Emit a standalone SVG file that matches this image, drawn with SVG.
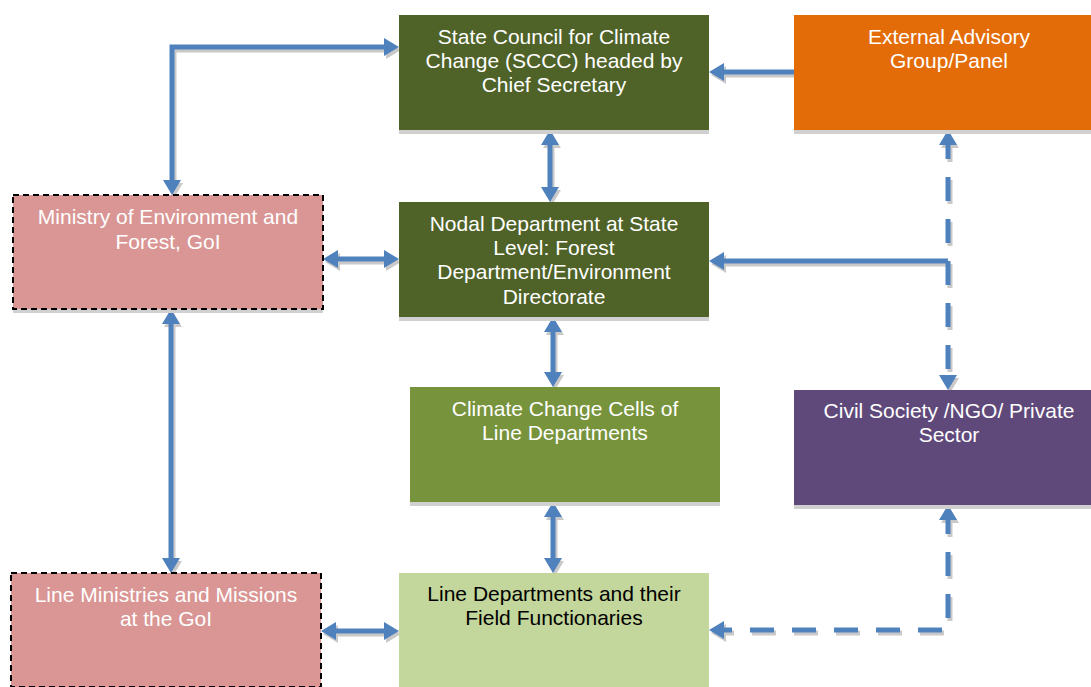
<svg xmlns="http://www.w3.org/2000/svg" width="1091" height="687" viewBox="0 0 1091 687">
<style>
.box text{font-family:"Liberation Sans",Arial,sans-serif;font-size:21px;text-anchor:middle;fill:#ffffff}
.shadow{fill:#d0d0d0}
.pink{fill:#D99694;stroke:#000;stroke-width:2;stroke-dasharray:6 4}
.conn{fill:none;stroke:#4F81BD;stroke-width:5;stroke-linejoin:miter}
.dash{stroke-dasharray:24 18}
.ar{marker-start:url(#ah);marker-end:url(#ah)}
.ae{marker-end:url(#ah)}
</style>
<defs>
<marker id="ah" markerUnits="userSpaceOnUse" markerWidth="16" markerHeight="18" refX="10" refY="9" orient="auto-start-reverse" viewBox="0 0 15 18">
<path d="M0,0 L15,9 L0,18 z" fill="#4F81BD"/>
</marker>
<filter id="sh" x="-10%" y="-10%" width="130%" height="130%">
<feDropShadow dx="2" dy="3" stdDeviation="0.6" flood-color="#888" flood-opacity="0.45"/>
</filter>
</defs>
<rect width="1091" height="687" fill="#ffffff"/>

<g id="connectors" filter="url(#sh)">
<path class="conn ar" d="M172,190 L172,47 L394,47"/>
<path class="conn ae" d="M794,72 L714,72"/>
<path class="conn ar" d="M550,135 L550,197"/>
<path class="conn ar" d="M328,259 L394,259"/>
<path class="conn ae" d="M948,261 L714,261"/>
<path class="conn dash ar" d="M948,135 L948,385"/>
<path class="conn ar" d="M553,322 L553,382"/>
<path class="conn ar" d="M553,507 L553,568"/>
<path class="conn ar" d="M171,314 L171,568"/>
<path class="conn ar" d="M326,631 L394,631"/>
<path class="conn dash ar" d="M948,510 L948,630 L714,630"/>
</g>

<g id="sccc" class="box">
<rect class="shadow" x="399" y="19" width="310" height="115"/>
<rect x="399" y="15" width="310" height="115" fill="#4F6228"/>
<text x="554" y="44">State Council for Climate</text>
<text x="554" y="68">Change (SCCC) headed by</text>
<text x="554" y="92">Chief Secretary</text>
</g>

<g id="external" class="box">
<rect class="shadow" x="794" y="19" width="310" height="115"/>
<rect x="794" y="15" width="310" height="115" fill="#E36C09"/>
<text x="949" y="44">External Advisory</text>
<text x="949" y="68">Group/Panel</text>
</g>

<g id="moef" class="box">
<rect class="shadow" x="13" y="199" width="310" height="114"/>
<rect class="pink" x="13" y="195" width="310" height="114"/>
<text x="168" y="224">Ministry of Environment and</text>
<text x="168" y="249">Forest, GoI</text>
</g>

<g id="nodal" class="box">
<rect class="shadow" x="399" y="206" width="310" height="115"/>
<rect x="399" y="202" width="310" height="115" fill="#4F6228"/>
<text x="554" y="231">Nodal Department at State</text>
<text x="554" y="255">Level: Forest</text>
<text x="554" y="279">Department/Environment</text>
<text x="554" y="304">Directorate</text>
</g>

<g id="cells" class="box">
<rect class="shadow" x="410" y="391" width="310" height="115"/>
<rect x="410" y="387" width="310" height="115" fill="#77933C"/>
<text x="565" y="416">Climate Change Cells of</text>
<text x="565" y="440">Line Departments</text>
</g>

<g id="civil" class="box">
<rect class="shadow" x="794" y="394" width="310" height="115"/>
<rect x="794" y="390" width="310" height="115" fill="#5F497A"/>
<text x="949" y="418">Civil Society /NGO/ Private</text>
<text x="949" y="442">Sector</text>
</g>

<g id="lineministries" class="box">
<rect class="pink" x="11" y="573" width="310" height="114"/>
<text x="166" y="602">Line Ministries and Missions</text>
<text x="166" y="626">at the GoI</text>
</g>

<g id="linedepts" class="box">
<rect x="399" y="573" width="310" height="115" fill="#C3D69B"/>
<text x="554" y="601" style="fill:#000000">Line Departments and their</text>
<text x="554" y="625" style="fill:#000000">Field Functionaries</text>
</g>
</svg>
